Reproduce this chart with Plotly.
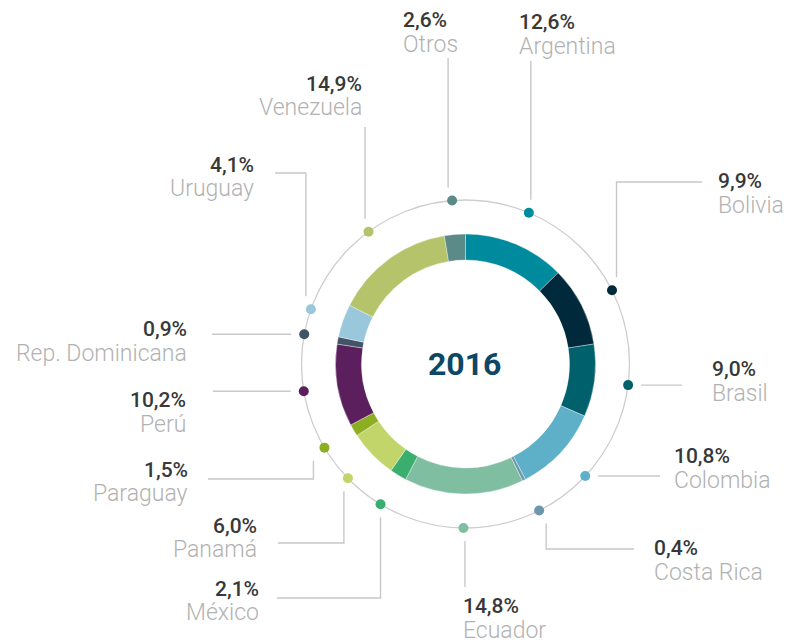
import math
import plotly.graph_objects as go

# ---------------- data ----------------
countries = ["Argentina", "Bolivia", "Brasil", "Colombia", "Costa Rica", "Ecuador",
             "México", "Panamá", "Paraguay", "Perú", "Rep. Dominicana", "Uruguay",
             "Venezuela", "Otros"]
shares = [12.6, 9.9, 9.0, 10.8, 0.4, 14.8, 2.1, 6.0, 1.5, 10.2, 0.9, 4.1, 14.9, 2.6]
year_label = "2016"

# ---------------- style ----------------
colors = ["#008a9e", "#00293b", "#00606b", "#5eb0c8", "#6d97ad", "#7fbea0",
          "#3aae6e", "#c2d56a", "#8caf21", "#5b1f5d", "#435467", "#99c7db",
          "#b5c46a", "#5b8a88"]

W, H = 787, 643
CX, CY = 465.5, 364.0       # donut centre (px)
R_OUT, R_IN = 130.0, 104.0  # donut radii (px)
R_DOT = 164.0               # radius of the thin outer ring with the dots
GAP = 13.0                  # gap between a dot and its leader line

# leader layout per country: (kind, a, b, x-offset of vertical part)
#  'v'  : vertical line up/down to y=a
#  'h'  : horizontal line to x=a
#  'vh' : vertical to y=a, then horizontal to x=b
leaders = {
    "Argentina":       ("v", 61, None, 2),
    "Bolivia":         ("vh", 182, 702, 4.5),
    "Brasil":          ("h", 682, None, 0),
    "Colombia":        ("h", 660, None, 0),
    "Costa Rica":      ("vh", 549, 634, 7),
    "Ecuador":         ("v", 587, None, 1.5),
    "México":          ("vh", 598, 277, 0),
    "Panamá":          ("vh", 543, 278, -4),
    "Paraguay":        ("vh", 479, 208, -11),
    "Perú":            ("h", 213, None, 0),
    "Rep. Dominicana": ("h", 212, None, 0),
    "Uruguay":         ("vh", 173, 275, -5),
    "Venezuela":       ("v", 127, None, -3.5),
    "Otros":           ("v", 58, None, -4),
}

# label placement: (x, anchor, y of percentage, y of name)
labels = {
    "Otros":           (401, "left", 20, 44),
    "Argentina":       (517, "left", 22, 46),
    "Bolivia":         (716, "left", 181, 205),
    "Brasil":          (710, "left", 369, 393),
    "Colombia":        (672, "left", 456, 480),
    "Costa Rica":      (652, "left", 548, 572),
    "Ecuador":         (461, "left", 606, 630),
    "Venezuela":       (364, "right", 84, 107),
    "Uruguay":         (256, "right", 165, 188),
    "Rep. Dominicana": (189, "right", 329, 353),
    "Perú":            (188, "right", 400, 424),
    "Paraguay":        (190, "right", 470, 493),
    "Panamá":          (259, "right", 526, 549),
    "México":          (261, "right", 589, 612),
}

PCT_FONT = dict(family="Roboto, 'Open Sans', sans-serif", size=21, color="#383838", weight=500)
NAME_FONT = dict(family="'Roboto Light', Roboto, 'Open Sans', sans-serif", size=23,
                 color="#b2b2b2", weight=300)
LINE_COLOR = "#c8c8c8"

fig = go.Figure()

# donut
fig.add_trace(go.Pie(
    labels=countries, values=shares, hole=R_IN / R_OUT, sort=False,
    direction="clockwise", rotation=0, textinfo="none", hoverinfo="skip",
    marker=dict(colors=colors, line=dict(color="rgba(255,255,255,0.6)", width=0.6)),
    domain=dict(x=[(CX - R_OUT) / W, (CX + R_OUT) / W],
                y=[(H - CY - R_OUT) / H, (H - CY + R_OUT) / H]),
    showlegend=False,
))

# dot positions at slice mid-angles
total = sum(shares)
dots_x, dots_y = [], []
cum = 0.0
for v in shares:
    mid = (cum + v / 2) / total * 2 * math.pi
    dots_x.append(CX + R_DOT * math.sin(mid))
    dots_y.append(CY - R_DOT * math.cos(mid))
    cum += v

# leader lines
lx, ly = [], []
for name, dx, dy in zip(countries, dots_x, dots_y):
    kind, a, b, off = leaders[name]
    if kind == "h":
        s = 1 if a > dx else -1
        lx += [dx + s * GAP, a, None]
        ly += [dy, dy, None]
    else:
        x = dx + off
        s = 1 if a > dy else -1
        if kind == "v":
            lx += [x, x, None]
            ly += [dy + s * GAP, a, None]
        else:
            lx += [x, x, b, None]
            ly += [dy + s * GAP, a, a, None]

fig.add_trace(go.Scatter(x=lx, y=ly, mode="lines", hoverinfo="skip",
                         line=dict(color=LINE_COLOR, width=1.4), showlegend=False))

fig.add_trace(go.Scatter(x=dots_x, y=dots_y, mode="markers", hoverinfo="skip",
                         marker=dict(size=10, color=colors, line=dict(width=0)),
                         showlegend=False))

# thin outer ring
shapes = [dict(type="circle", xref="x", yref="y", layer="below",
               x0=CX - R_DOT, x1=CX + R_DOT, y0=CY - R_DOT, y1=CY + R_DOT,
               line=dict(color="#cdcdcd", width=1.3))]

annotations = []
for name, v in zip(countries, shares):
    x, anc, yp, yn = labels[name]
    pct = f"{v:.1f}".replace(".", ",") + "%"
    annotations.append(dict(x=x, y=yp, xref="x", yref="y", text=pct, showarrow=False,
                            xanchor=anc, yanchor="middle", font=PCT_FONT))
    annotations.append(dict(x=x, y=yn, xref="x", yref="y", text=name, showarrow=False,
                            xanchor=anc, yanchor="middle", font=NAME_FONT))

annotations.append(dict(x=CX - 1, y=CY, xref="x", yref="y", text=year_label, showarrow=False,
                        xanchor="center", yanchor="middle",
                        font=dict(family="Roboto, 'Open Sans', sans-serif", size=32,
                                  color="#0d4766", weight=700)))

fig.update_layout(
    width=W, height=H, margin=dict(l=0, r=0, t=0, b=0),
    paper_bgcolor="white", plot_bgcolor="white",
    xaxis=dict(range=[0, W], visible=False, fixedrange=True),
    yaxis=dict(range=[H, 0], visible=False, fixedrange=True),
    shapes=shapes, annotations=annotations, hovermode=False,
)

fig.write_html("out.html", config={"displayModeBar": False},
               post_script="document.body.style.margin='0';document.body.style.overflow='hidden';")
